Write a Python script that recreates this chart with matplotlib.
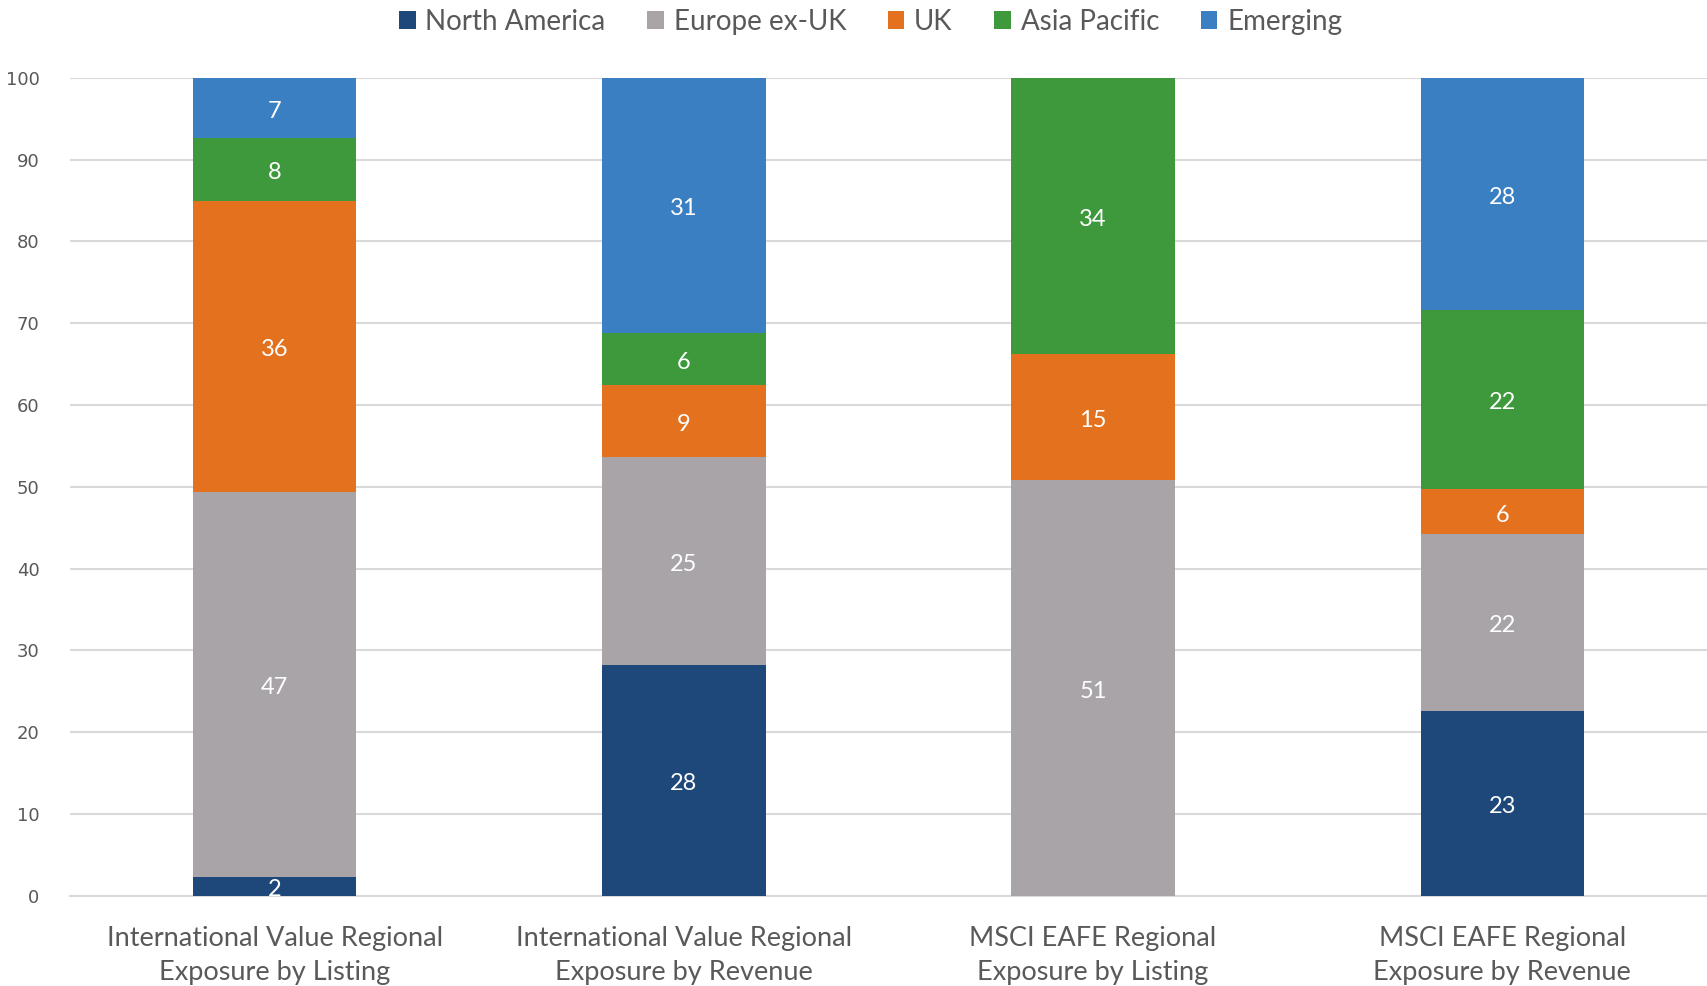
import numpy as np
import matplotlib.pyplot as plt

categories = ["International Value Regional\nExposure by Listing",
              "International Value Regional\nExposure by Revenue",
              "MSCI EAFE Regional\nExposure by Listing",
              "MSCI EAFE Regional\nExposure by Revenue"]
series_names = ["North America", "Europe ex-UK", "UK", "Asia Pacific", "Emerging"]
north_america = [2.3, 28.2, 0.0, 22.6]
europe_ex_uk = [47.1, 25.4, 50.8, 21.6]
uk = [35.6, 8.9, 15.4, 5.5]
asia_pacific = [7.6, 6.3, 33.8, 21.9]
emerging = [7.4, 31.2, 0.0, 28.4]
colors = ["#1F487A", "#A8A4A7", "#E3711E", "#3D993C", "#3A7FC1"]

plt.rcParams['font.family'] = ['Lato', 'DejaVu Sans']
grey = "#595959"

fig = plt.figure(figsize=(17.07, 9.86), dpi=100)
ax = fig.add_axes([0.041, 0.0916, 0.959, 0.8294])

x = np.arange(len(categories))
bottom = np.zeros(len(categories))
for name, vals, c in zip(series_names,
                         [north_america, europe_ex_uk, uk, asia_pacific, emerging],
                         colors):
    vals = np.array(vals)
    ax.bar(x, vals, 0.4, bottom=bottom, color=c, label=name, zorder=3)
    for xi, v, b in zip(x, vals, bottom):
        if v > 0:
            ax.text(xi, b + v / 2 - 0.4, f"{v:.0f}", ha="center", va="center",
                    color="white", fontsize=17, zorder=4)
    bottom += vals

ax.set_xlim(-0.5, 3.5)
ax.set_ylim(0, 100)
ax.set_yticks(np.arange(0, 101, 10))
ax.yaxis.grid(True, color="#D9D9D9", lw=1.5, zorder=0)
for s in ["top", "right", "left"]:
    ax.spines[s].set_visible(False)
ax.spines["bottom"].set_color("#D9D9D9")
ax.spines["bottom"].set_linewidth(1.5)
ax.tick_params(axis="both", length=0, colors=grey)
ax.tick_params(axis="y", pad=22, labelsize=13)
for lab in ax.get_yticklabels():
    lab.set_family("DejaVu Sans")
ax.set_xticks(x)
ax.set_xticklabels(categories, fontsize=19.5, color=grey, linespacing=1.45)
ax.tick_params(axis="x", pad=22)

fig.legend(loc="center", bbox_to_anchor=(0.51, 0.978), ncol=5, frameon=False,
           fontsize=20, labelcolor=grey, handlelength=0.6, handleheight=0.6,
           handletextpad=0.35, columnspacing=1.5)

fig.savefig("out.png", dpi=100)
